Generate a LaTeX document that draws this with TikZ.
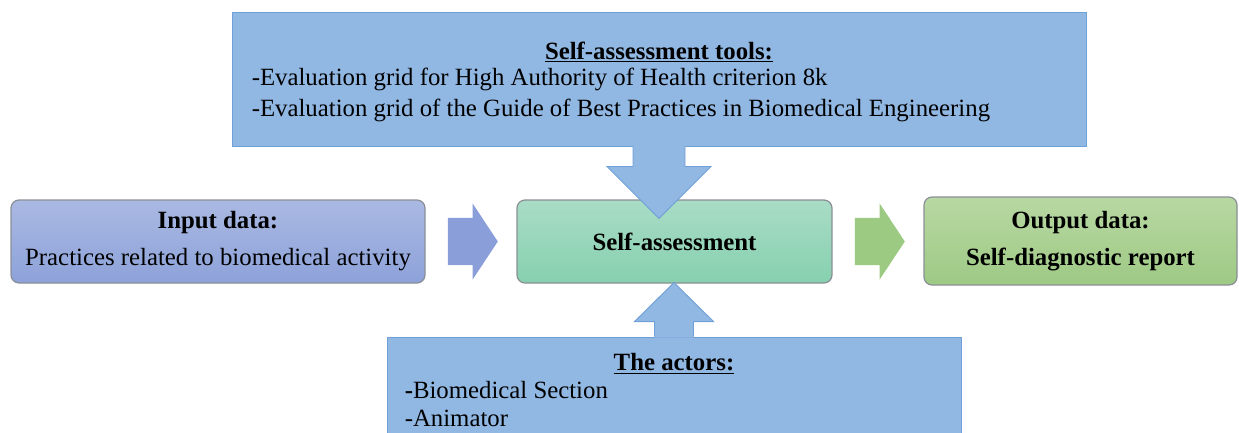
\documentclass[tikz,border=0pt]{standalone}
\usepackage{fontspec}
\setmainfont{Liberation Serif}
\usetikzlibrary{shapes.arrows,positioning,calc}

\definecolor{toolblue}{HTML}{91B7E3}
\definecolor{toolline}{HTML}{6FA0D8}
\definecolor{inputtop}{HTML}{AAB9E2}
\definecolor{inputbot}{HTML}{8DA2DA}
\definecolor{inputarrow}{HTML}{8A9FDA}
\definecolor{selftop}{HTML}{A9DCC6}
\definecolor{selfbot}{HTML}{86D0AF}
\definecolor{outtop}{HTML}{B8D8A3}
\definecolor{outbot}{HTML}{9EC984}
\definecolor{outarrow}{HTML}{9CCA83}
\definecolor{boxline}{HTML}{8A8F96}

\tikzset{
	stagebox/.style={draw=boxline, line width=1.2pt, rounded corners=8pt, align=center, inner sep=0pt, font=\fontsize{24.8}{37}\selectfont},
	toolbox/.style={draw=toolline, fill=toolblue, line width=0.9pt, inner sep=0pt},
	flowarrow/.style={single arrow, draw=none, inner xsep=0pt, inner ysep=23.5pt, minimum height=50pt, single arrow head extend=14.5pt, single arrow tip angle=113},
	boxtext/.style={font=\fontsize{24.8}{31}\selectfont, inner sep=0pt}
}

\begin{document}
\begin{tikzpicture}[x=1pt, y=-1pt]
				\useasboundingbox (0,0) rectangle (1239,432);
				\clip (0,0) rectangle (1239,432);
				% the three stages
				\node[stagebox, top color=inputtop, bottom color=inputbot, minimum width=414pt, minimum height=83pt] (input) at (218,241.5) {\textbf{Input data:}\\Practices related to biomedical activity};
				\node[stagebox, top color=selftop, bottom color=selfbot, minimum width=315pt, minimum height=83pt] (self) at (674.5,241.5) {\textbf{Self-assessment}};
				\node[stagebox, top color=outtop, bottom color=outbot, minimum width=313pt, minimum height=88pt] (output) at (1080.5,241) {\textbf{Output data:}\\\textbf{Self-diagnostic report}};
				\node[flowarrow, fill=inputarrow, anchor=tail] (inarrow) at ($(input.east)+(22,0)$) {};
				\node[flowarrow, fill=outarrow, anchor=tail] (outarrow) at ($(self.east)+(22,0)$) {};
				% tools callout
				\node[toolbox, minimum width=854pt, minimum height=134pt] (tools) at (659,79) {};
				\fill[toolblue] ($(tools.south)+(-26,-1)$) -- ++(0,21) -- ++(-26,0) -- ($(tools.south)+(0,72)$) -- ($(tools.south)+(52,20)$) -- ++(-26,0) -- ++(0,-21) -- cycle;
				\draw[toolline, line width=0.9pt] ($(tools.south)+(-26,0)$) -- ++(0,20) -- ++(-26,0) -- ($(tools.south)+(0,72)$) -- ($(tools.south)+(52,20)$) -- ++(-26,0) -- ++(0,-20);
				\node[boxtext] (toolstitle) at ($(tools.north)+(0,40)$) {\underline{\textbf{Self-assessment tools:}}};
				\node[boxtext, anchor=west, align=left] (toolslist) at ($(tools.west)+(20,16)$) {-Evaluation grid for High Authority of Health criterion 8k\\-Evaluation grid of the Guide of Best Practices in Biomedical Engineering};
				% actors callout
				\node[toolbox, minimum width=574pt, minimum height=103pt] (actors) at (674,388.5) {};
				\fill[toolblue] ($(actors.north)+(-19.5,1)$) -- ++(0,-16) -- ++(-20,0) -- ($(actors.north)+(0,-54)$) -- ($(actors.north)+(39.5,-15)$) -- ++(-20,0) -- ++(0,16) -- cycle;
				\draw[toolline, line width=0.9pt] ($(actors.north)+(-19.5,0)$) -- ++(0,-15) -- ++(-20,0) -- ($(actors.north)+(0,-54)$) -- ($(actors.north)+(39.5,-15)$) -- ++(-20,0) -- ++(0,15);
				\node[boxtext] (actorstitle) at ($(actors.north)+(0,27)$) {\underline{\textbf{The actors:}}};
				\node[boxtext, anchor=west, align=left, font=\fontsize{24.8}{28}\selectfont] (actorslist) at ($(actors.west)+(18,16)$) {\textbf{-}Biomedical Section\\-Animator};
			\end{tikzpicture}
\end{document}
